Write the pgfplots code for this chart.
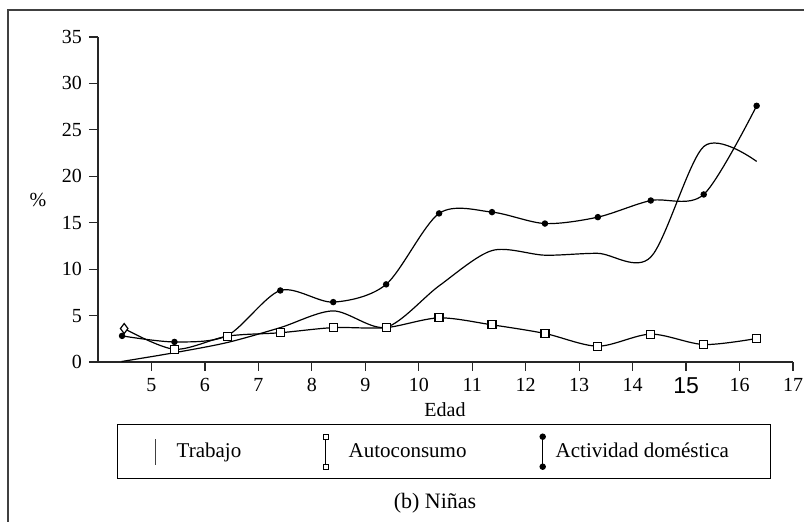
\documentclass[border=0pt]{standalone}
\usepackage{fontspec}
\setmainfont{Liberation Serif}
\newfontfamily\sansf{Liberation Sans}
\usepackage{pgfplots}
\pgfplotsset{compat=1.18}
\usepackage{pgfplotstable}

\pgfplotstableread{
x y
4.44 0.05
5.43 1.0
6.42 2.1
7.41 3.7
8.40 5.5
9.39 3.75
10.38 8.2
11.37 12.0
12.36 11.5
13.35 11.7
14.34 11.3
15.33 23.2
16.32 21.6
}\trabajo

\pgfplotstableread{
x y
4.49 3.6
5.43 1.37
6.42 2.78
7.41 3.15
8.40 3.7
9.39 3.7
10.38 4.75
11.37 4.0
12.36 3.07
13.35 1.7
14.34 3.0
15.33 1.88
16.32 2.53
}\autoc

\pgfplotstableread{
x y
4.45 2.81
5.43 2.16
6.42 2.85
7.41 7.7
8.40 6.45
9.39 8.36
10.38 16.0
11.37 16.14
12.36 14.91
13.35 15.6
14.34 17.39
15.33 18.04
16.32 27.59
}\activ

\begin{document}
\fontsize{10}{12}\selectfont
\begin{tikzpicture}
\useasboundingbox (0,0) rectangle (402pt,261pt);
\draw[line width=0.8pt, black!75] (4pt,0pt) -- (4pt,256pt) -- (402pt,256pt);
\begin{axis}[
  at={(49pt,80pt)}, anchor=south west,
  scale only axis, width=347.5pt, height=162.5pt,
  xmin=4, xmax=17, ymin=0, ymax=35,
  axis x line=bottom, axis y line=left,
  axis line style={-, line width=0.6pt, black!85},
  xtick={5,6,7,8,9,10,11,12,13,14,15,16,17},
  xticklabels={5,6,7,8,9,10,11,12,13,14,{\sansf\fontsize{11.5}{12}\selectfont 15},16,17},
  ytick={0,5,10,15,20,25,30,35},
  tick align=outside, major tick length=4.5pt,
  tick style={line width=0.6pt, black!85},
  /pgf/number format/assume math mode=true,
  tick label style={font=\fontsize{10}{12}\selectfont},
  clip=false,
  legend columns=3,
  legend cell align=left,
  legend style={at={(axis description cs:0.02734,-0.1908)}, anchor=north west,
    draw=black, line width=0.7pt, inner sep=0pt, row sep=0pt, column sep=0pt,
    nodes={inner sep=0pt, anchor=west, font=\fontsize{10.5}{12}\selectfont},
    /tikz/every even column/.style={column sep=0pt},
    /tikz/every odd column/.style={column sep=0pt}},
]
\addplot[smooth, line width=0.6pt, black,
  legend image code/.code={\path[draw=none,fill=none] (-19pt,-13.5pt) rectangle (10.5pt,13.5pt);
    \draw[line width=0.6pt, black!75] (0pt,-6.5pt) -- (0pt,6.5pt);}]
  table[x=x,y=y] {\trabajo};
\addlegendentry{\makebox[69pt][l]{Trabajo}}

\addplot[smooth, line width=0.6pt, black,
  legend image code/.code={\path[draw=none,fill=none] (-5.5pt,-13.5pt) rectangle (11.5pt,13.5pt);
    \draw[line width=0.6pt, black, mark=square*, mark size=1.2pt, mark options={fill=white, draw=black, line width=0.5pt}]
      plot coordinates {(0pt,-7.5pt) (0pt,7.5pt)};}]
  table[x=x,y=y] {\autoc};
\addlegendentry{\makebox[91pt][l]{Autoconsumo}}

\addplot[smooth, line width=0.6pt, black, mark=*, mark size=1.3pt,
  mark options={fill=black},
  legend image code/.code={\path[draw=none,fill=none] (-6pt,-13.5pt) rectangle (6.5pt,13.5pt);
    \draw[line width=0.6pt, black, mark=*, mark size=1.3pt, mark options={fill=black}]
      plot coordinates {(0pt,-7.5pt) (0pt,7.5pt)};}]
  table[x=x,y=y] {\activ};
\addlegendentry{\makebox[107.5pt][l]{Actividad doméstica}}

\addplot[only marks, forget plot, mark=square*, mark size=2pt,
  mark options={fill=white, draw=black, line width=0.6pt},
  mark indices={2,3,4,5,6,7,8,9,10,11,12,13}]
  table[x=x,y=y] {\autoc};
\addplot[only marks, forget plot, mark=diamond*, mark size=2.5pt,
  mark options={fill=white, draw=black, line width=0.6pt}]
  coordinates {(4.49,3.6)};
\end{axis}
\node at (19pt,161pt) {\%};
\node at (222.5pt,56pt) {Edad};
\node[font=\fontsize{11}{13}\selectfont] at (217.5pt,9.5pt) {(b) Niñas};
\end{tikzpicture}
\end{document}
